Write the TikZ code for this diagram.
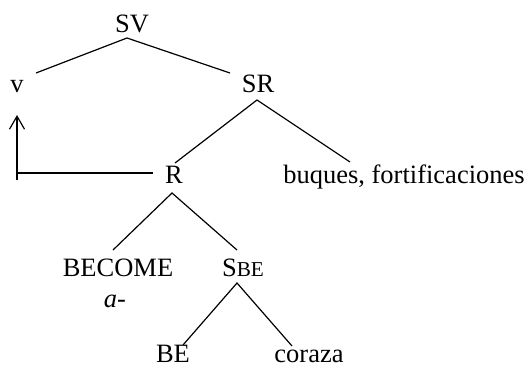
\documentclass[tikz,border=0pt]{standalone}
\usepackage{fontspec}
\setmainfont{Liberation Serif}
\usetikzlibrary{arrows.meta}
\begin{document}
\begin{tikzpicture}[x=1pt,y=-1pt,
  lbl/.style={anchor=base,inner sep=0pt,font=\fontsize{26.5}{30}\selectfont},
  edge/.style={line width=1.2pt,line cap=butt}]
\useasboundingbox (0,0) rectangle (527,368);
\node[lbl] (SV) at (132,32) {SV};
\node[lbl] (v) at (17,92) {v};
\node[lbl] (SR) at (258,92) {SR};
\node[lbl] (R) at (174,183) {R};
\node[lbl] (buq) at (404,183) {buques, fortificaciones};
\node[lbl] (BEC) at (118,276) {BECOME};
\node[lbl] (a) at (115,307) {\itshape a-};
\node[lbl] (SBE) at (243,276) {S{\fontsize{21.2}{24}\selectfont BE}};
\node[lbl] (BE) at (173,362) {BE};
\node[lbl] (cor) at (309,362) {coraza};
\coordinate (corner) at (17,173);
\coordinate (tail) at (17,180);
\draw[edge] ([shift={(19,-19)}]v.base) -- ([shift={(-5,6)}]SV.base) -- ([shift={(-28,-19)}]SR.base);
\draw[edge] ([shift={(1,-20)}]R.base) -- ([shift={(-1,8)}]SR.base) -- ([shift={(-54,-21)}]buq.base);
\draw[edge] ([shift={(-5,-26)}]BEC.base) -- ([shift={(-2,10)}]R.base) -- ([shift={(-6,-26)}]SBE.base);
\draw[edge] ([shift={(10,-17)}]BE.base) -- ([shift={(-6,7)}]SBE.base) -- ([shift={(-17,-16)}]cor.base);
\draw[edge] ([shift={(-21,-10)}]R.base) -- (corner);
\draw[edge,-{Straight Barb[length=13pt,width=15pt,line width=1.2pt]}] (tail) -- ([shift={(0,23)}]v.base);
\end{tikzpicture}
\end{document}
